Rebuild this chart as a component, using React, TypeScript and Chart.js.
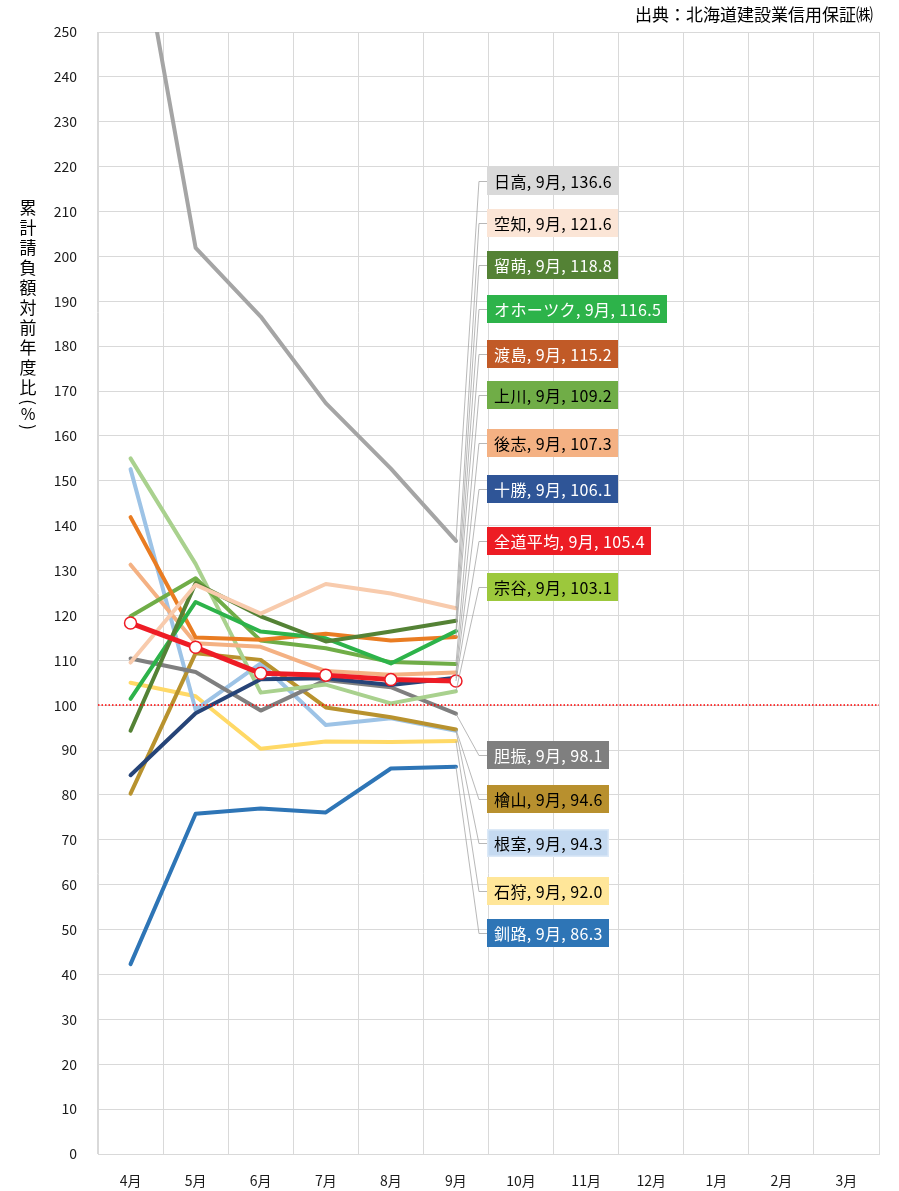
import React, { useEffect, useRef } from 'react';
import { Chart, registerables } from 'chart.js';

Chart.register(...registerables);

// ---- data ----
const months = ['4月', '5月', '6月', '7月', '8月', '9月', '10月', '11月', '12月', '1月', '2月', '3月'];
const yMin = 0;
const yMax = 250;
const yStep = 10;
const baseline = 100;

const hidaka = [283, 201.9, 186.6, 167.3, 152.7, 136.6];
const sorachi = [109.5, 126.8, 120.4, 127.0, 124.9, 121.6];
const rumoi = [94.3, 127.2, 119.8, 114.2, 116.4, 118.8];
const okhotsk = [101.4, 123.0, 116.4, 114.9, 109.3, 116.5];
const oshima = [141.9, 115.1, 114.6, 115.9, 114.4, 115.2];
const kamikawa = [119.8, 128.3, 114.4, 112.7, 109.6, 109.2];
const shiribeshi = [131.3, 113.8, 113.0, 107.6, 106.8, 107.3];
const tokachi = [84.4, 98.2, 105.8, 106.0, 104.5, 106.1];
const average = [118.3, 112.9, 107.1, 106.7, 105.7, 105.4];
const soya = [155.0, 131.5, 102.8, 104.6, 100.4, 103.1];
const iburi = [110.4, 107.4, 98.8, 105.6, 104.0, 98.1];
const hiyama = [80.3, 111.6, 110.1, 99.5, 97.3, 94.6];
const nemuro = [152.6, 99.0, 109.3, 95.6, 97.1, 94.3];
const ishikari = [105.0, 102.0, 90.3, 91.9, 91.8, 92.0];
const kushiro = [42.3, 75.8, 77.0, 76.1, 85.9, 86.3];

const sourceText = '出典：北海道建設業信用保証㈱';
const yTitleChars = ['累', '計', '請', '負', '額', '対', '前', '年', '度', '比'];

// ---- styles (colours and label slots, in axis units) ----
type S = { name: string; data: number[]; line: string; box: string; text: string; slot: number; width: number; border?: string };
const series: S[] = [
  { name: '全道平均', data: average, line: '#EE1C25', box: '#ED1C24', text: '#FFFFFF', slot: 136.6, width: 5 },
  { name: '日高', data: hidaka, line: '#A5A5A5', box: '#D9D9D9', text: '#000000', slot: 216.8, width: 4 },
  { name: '空知', data: sorachi, line: '#F8CBAD', box: '#FBE5D6', text: '#000000', slot: 207.4, width: 4 },
  { name: '留萌', data: rumoi, line: '#548235', box: '#548235', text: '#FFFFFF', slot: 198.1, width: 4 },
  { name: 'オホーツク', data: okhotsk, line: '#2DB34A', box: '#2DB34A', text: '#FFFFFF', slot: 188.3, width: 4 },
  { name: '渡島', data: oshima, line: '#E97C22', box: '#C15A27', text: '#FFFFFF', slot: 178.3, width: 4 },
  { name: '上川', data: kamikawa, line: '#70AD47', box: '#70AD47', text: '#000000', slot: 169.1, width: 4 },
  { name: '後志', data: shiribeshi, line: '#F4B183', box: '#F4B183', text: '#000000', slot: 158.4, width: 4 },
  { name: '十勝', data: tokachi, line: '#264478', box: '#2F5597', text: '#FFFFFF', slot: 148.2, width: 4 },
  { name: '宗谷', data: soya, line: '#A9D18E', box: '#9CC83C', text: '#000000', slot: 126.3, width: 4 },
  { name: '胆振', data: iburi, line: '#7F7F7F', box: '#7F7F7F', text: '#FFFFFF', slot: 88.9, width: 4 },
  { name: '檜山', data: hiyama, line: '#B8922E', box: '#B8902E', text: '#000000', slot: 79.1, width: 4 },
  { name: '根室', data: nemuro, line: '#9DC3E6', box: '#C5DAF1', text: '#000000', slot: 69.3, width: 4, border: '#DCE9F7' },
  { name: '石狩', data: ishikari, line: '#FFD966', box: '#FFE699', text: '#000000', slot: 58.6, width: 4 },
  { name: '釧路', data: kushiro, line: '#2E75B6', box: '#2E75B6', text: '#FFFFFF', slot: 49.2, width: 4 },
];

const FONT = "'Noto Sans CJK JP', 'Noto Sans', sans-serif";

const overlayPlugin = {
  id: 'overlay',
  afterDatasetsDraw(chart: any) {
    const ctx = chart.ctx as any;
    const ys = chart.scales.y;
    const area = chart.chartArea;
    // dotted 100% line
    ctx.save();
    ctx.strokeStyle = '#FF0000';
    ctx.lineWidth = 1.5;
    ctx.setLineDash([1.5, 2]);
    const ry = Math.round(ys.getPixelForValue(baseline));
    ctx.beginPath();
    ctx.moveTo(area.left, ry);
    ctx.lineTo(area.right, ry);
    ctx.stroke();
    ctx.restore();

    // data labels with leader lines
    ctx.save();
    ctx.font = `16px ${FONT}`;
    ctx.letterSpacing = '0.4px';
    series.forEach((s, i) => {
      const meta = chart.getDatasetMeta(i);
      const pt = meta.data[s.data.length - 1];
      if (!pt) return;
      const ly = Math.round(ys.getPixelForValue(s.slot));
      const bend = pt.x + 23;
      const bx = Math.round(pt.x + 31);
      ctx.strokeStyle = '#A6A6A6';
      ctx.lineWidth = 0.8;
      ctx.setLineDash([]);
      ctx.beginPath();
      ctx.moveTo(pt.x, pt.y);
      ctx.lineTo(bend, ly + 0.5);
      ctx.lineTo(bx, ly + 0.5);
      ctx.stroke();
      const txt = `${s.name}, ${months[s.data.length - 1]}, ${s.data[s.data.length - 1].toFixed(1)}`;
      const tw = ctx.measureText(txt).width;
      const w = Math.round(tw + 13);
      const h = 28;
      ctx.fillStyle = s.box;
      ctx.fillRect(bx, ly - h / 2, w, h);
      if (s.border) {
        ctx.strokeStyle = s.border;
        ctx.lineWidth = 1.5;
        ctx.strokeRect(bx + 0.75, ly - h / 2 + 0.75, w - 1.5, h - 1.5);
      }
      ctx.fillStyle = s.text;
      ctx.textAlign = 'left';
      ctx.textBaseline = 'middle';
      ctx.fillText(txt, bx + 7, ly + 1);
    });
    ctx.restore();
  },
  afterDraw(chart: any) {
    const ctx = chart.ctx as CanvasRenderingContext2D;
    ctx.save();
    // source
    ctx.fillStyle = '#000000';
    ctx.font = `17px ${FONT}`;
    ctx.textAlign = 'right';
    ctx.textBaseline = 'middle';
    ctx.fillText(sourceText, 873, 15);
    // vertical y title
    ctx.font = `17px ${FONT}`;
    ctx.textAlign = 'center';
    const cx = 28;
    let y = 208;
    yTitleChars.forEach((c) => {
      ctx.fillText(c, cx, y);
      y += 19.9;
    });
    const drawRot = (c: string, yy: number) => {
      ctx.save();
      ctx.translate(cx, yy);
      ctx.rotate(Math.PI / 2);
      ctx.fillText(c, 0, 0);
      ctx.restore();
    };
    drawRot('(', 402);
    ctx.font = `16px ${FONT}`;
    ctx.fillText('%', cx, 414);
    ctx.font = `17px ${FONT}`;
    drawRot(')', 427);
    ctx.restore();
  },
};

export default function App() {
  const ref = useRef<HTMLCanvasElement | null>(null);
  useEffect(() => {
    document.body.style.margin = '0';
    const canvas = ref.current;
    if (!canvas) return;
    const chart = new Chart(canvas, {
      type: 'line',
      data: {
        labels: months,
        datasets: series.map((s, i) => ({
          label: s.name,
          data: s.data,
          borderColor: s.line,
          backgroundColor: s.line,
          borderWidth: s.width,
          borderCapStyle: 'round',
          borderJoinStyle: 'round',
          tension: 0,
          fill: false,
          order: i === 0 ? 0 : 1,
          clip: 0,
          pointRadius: i === 0 ? 6 : 0,
          pointBackgroundColor: '#FFFFFF',
          pointBorderColor: '#EE1C25',
          pointBorderWidth: 1.5,
          pointHoverRadius: i === 0 ? 6 : 0,
        })) as any,
      },
      options: {
        animation: false,
        responsive: false,
        devicePixelRatio: 1,
        layout: { padding: { top: 32, right: 20, left: 0, bottom: 0 } },
        plugins: { legend: { display: false }, tooltip: { enabled: false }, title: { display: false } },
        scales: {
          x: {
            offset: true,
            grid: { offset: true, color: '#D9D9D9', lineWidth: 1, drawTicks: false },
            border: { display: true, color: '#D9D9D9', width: 1 },
            ticks: { color: '#1A1A1A', font: { family: FONT, size: 14 }, padding: 18, maxRotation: 0, autoSkip: false },
            afterFit: (scale: any) => { scale.height = 37; },
          },
          y: {
            min: yMin,
            max: yMax,
            grid: { color: '#D9D9D9', lineWidth: 1, drawTicks: false },
            border: { display: true, color: '#D9D9D9', width: 1 },
            ticks: { stepSize: yStep, color: '#1A1A1A', font: { family: FONT, size: 14 }, padding: 21, autoSkip: false },
            afterFit: (scale: any) => { scale.width = 98; },
          },
        },
      } as any,
      plugins: [overlayPlugin],
    });
    return () => chart.destroy();
  }, []);
  return (
    <div style={{ position: 'absolute', left: 0, top: 0, width: 899, height: 1191, background: '#FFFFFF' }}>
      <canvas ref={ref} width={899} height={1191} style={{ display: 'block' }} />
    </div>
  );
}
